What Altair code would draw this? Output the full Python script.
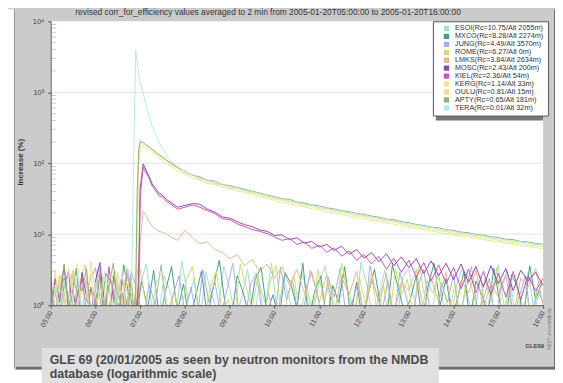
import altair as alt
import pandas as pd

# ---------------- texts ----------------
title_text = "revised corr_for_efficiency values averaged to 2 min from 2005-01-20T05:00:00 to 2005-01-20T16:00:00"
y_title = "Increase (%)"
caption1 = "GLE 69 (20/01/2005 as seen by neutron monitors from the NMDB"
caption2 = "database (logarithmic scale)"
watermark = "GLE69"
side_text = "NEST www.nmdb.eu"

# ---------------- axes ----------------
x_tick_minutes = [0, 60, 120, 180, 240, 300, 360, 420, 480, 540, 600, 660]
x_labels = ["05:00", "06:00", "07:00", "08:00", "09:00", "10:00", "11:00",
            "12:00", "13:00", "14:00", "15:00", "16:00"]
y_ticks = [1, 10, 100, 1000, 10000]
y_labels = ["10⁰", "10¹", "10²", "10³", "10⁴"]
grid_vals = [10, 100, 1000]

# ---------------- stations ----------------
stations = ["ESOI(Rc=10.75/Alt 2055m)", "MXCO(Rc=8.28/Alt 2274m)", "JUNG(Rc=4.49/Alt 3570m)",
            "ROME(Rc=6.27/Alt 0m)", "LMKS(Rc=3.84/Alt 2634m)", "MOSC(Rc=2.43/Alt 200m)",
            "KIEL(Rc=2.36/Alt 54m)", "KERG(Rc=1.14/Alt 33m)", "OULU(Rc=0.81/Alt 15m)",
            "APTY(Rc=0.65/Alt 181m)", "TERA(Rc=0.01/Alt 32m)"]
colors = ["#9fd8d0", "#3a9a80", "#a0a8f0", "#c8e060", "#e8b488", "#8a3cc0",
          "#cc50b0", "#e4ec7c", "#f0dc98", "#8cb070", "#b4ecdc"]

# time grids, minutes after 05:00 UT
esoi_t = list(range(0, 657, 8))
mxco_t = list(range(2, 659, 8))
jung_t = list(range(4, 661, 8))
rome_t = list(range(6, 655, 8))
pre_t = list(range(0, 109, 6))
evt_t = [112, 114, 116, 118, 120, 124, 128, 132, 136, 140, 145, 150, 155, 160, 170, 180,
         190, 200, 210, 220, 230, 240, 250, 260, 270, 280, 290] + list(range(300, 661, 10))

# noise-only stations (percent)
esoi = [0.6, 1.8, 1.0, 2.9, 0.7, 1.5, 2.3, 0.6, 3.4, 1.2,
        0.6, 2.5, 1.1, 3.1, 0.7, 1.9, 3.8, 0.9, 0.6, 2.6,
        1.6, 0.7, 4.2, 1.2, 2.3, 0.6, 2.9, 1.4, 0.8, 3.5,
        1.7, 0.6, 1.3, 3.2, 0.6, 2.0, 1.0, 3.9, 0.7, 2.4,
        1.2, 0.6, 3.0, 1.6, 0.8, 2.1, 3.6, 0.9, 0.6, 2.7,
        1.5, 0.7, 4.0, 1.9, 0.6, 1.4, 3.1, 1.0, 0.6, 2.5,
        3.3, 1.1, 0.6, 2.2, 1.5, 2.8, 0.8, 0.6, 1.9, 3.4,
        1.2, 0.7, 2.6, 0.6, 1.7, 3.7, 0.9, 2.1, 0.6, 1.4,
        2.9, 0.8, 1.6]
mxco = [1.2, 0.6, 2.4, 1.0, 3.3, 0.7, 1.7, 1.4, 0.6, 2.8,
        2.0, 0.7, 3.7, 1.1, 0.6, 2.2, 0.9, 3.1, 0.6, 1.6,
        3.5, 0.8, 2.0, 0.6, 1.3, 3.0, 0.7, 1.8, 4.3, 1.0,
        0.6, 2.6, 1.5, 0.7, 2.3, 3.4, 0.8, 1.4, 0.6, 2.9,
        2.0, 0.9, 3.9, 0.6, 1.6, 2.6, 0.6, 1.9, 1.1, 3.5,
        0.7, 2.1, 0.6, 1.5, 3.2, 1.0, 0.6, 3.7, 1.7, 0.8,
        1.2, 2.6, 0.6, 1.9, 3.9, 1.0, 2.4, 0.7, 1.3, 3.0,
        0.6, 2.2, 1.4, 0.8, 3.3, 1.1, 0.6, 2.7, 1.8, 0.7,
        3.6, 1.2, 2.0]
jung = [1.9, 0.8, 0.6, 2.7, 1.5, 0.7, 2.1, 3.4, 0.9, 0.6,
        2.4, 1.3, 0.7, 3.0, 1.6, 0.6, 2.0, 1.0, 3.7, 0.7,
        1.4, 2.6, 0.8, 1.8, 0.6, 3.2, 1.1, 2.2, 0.7, 1.6,
        3.9, 0.9, 0.6, 2.0, 2.8, 0.7, 1.5, 0.6, 3.4, 1.2,
        2.3, 0.7, 1.0, 3.1, 1.7, 0.6, 2.5, 1.3, 3.3, 0.7,
        1.1, 2.1, 0.6, 3.6, 1.5, 0.8, 2.2, 0.6, 2.9, 1.4,
        0.6, 1.8, 3.2, 0.9, 0.6, 2.1, 1.1, 2.7, 0.7, 1.6,
        3.5, 0.8, 1.2, 2.4, 0.6, 1.9, 3.0, 0.7, 1.3, 2.6,
        0.6, 1.7, 1.1]
rome = [0.7, 2.6, 1.4, 0.6, 2.0, 3.7, 0.8, 1.2, 2.5, 0.6,
        3.1, 1.0, 1.7, 0.7, 4.1, 1.3, 0.6, 2.2, 2.8, 0.7,
        1.5, 0.6, 2.3, 3.5, 1.0, 0.6, 1.9, 3.0, 0.8, 1.2,
        0.6, 3.8, 1.8, 0.9, 2.7, 0.7, 2.1, 3.6, 0.6, 1.3,
        2.6, 0.7, 1.7, 0.6, 3.2, 1.1, 2.1, 0.7, 3.9, 1.6,
        0.6, 2.4, 1.0, 2.9, 0.7, 1.9, 0.6, 3.3, 1.4, 2.3,
        0.7, 3.7, 1.2, 0.6, 2.6, 1.7, 0.8, 2.0, 0.6, 3.0,
        1.5, 0.7, 2.4, 1.1, 3.4, 0.6, 1.8, 2.7, 0.8, 1.3,
        0.6, 2.2]

# event stations: pre-onset noise (pre_t) then the event (evt_t)
lmks_pre = [1.8, 0.7, 2.6, 1.2, 0.6, 3.1, 1.5, 0.8, 2.2, 0.6, 1.7, 3.4, 0.9, 2.0, 0.6, 1.4, 2.8, 0.7, 1.1]
lmks_evt = [0.8, 1.6, 0.7, 1.5, 8, 21, 18, 15, 13, 12, 11, 10.6, 10.2, 9.3, 8.2, 11.4, 9.0, 7.4,
            7.8, 6.1, 5.6, 4.5, 5.2, 3.6, 4.4, 3.0, 3.8,
            2.4, 3.5, 1.9, 3.2, 1.5, 2.9, 1.1, 2.7, 0.8, 2.5, 1.4, 3.0, 0.7, 2.3, 1.2, 2.8, 0.7,
            2.1, 1.6, 3.2, 0.8, 2.4, 1.1, 2.9, 0.6, 2.2, 1.5, 3.1, 0.9, 2.0, 1.3, 2.6, 0.7, 2.4,
            1.8, 3.3, 1.0]
mosc_pre = [0.6, 2.4, 1.1, 3.6, 0.8, 1.6, 0.6, 2.9, 1.3, 0.7, 2.2, 4.0, 1.0, 0.6, 2.6, 1.5, 0.8, 3.2, 1.2]
mosc_evt = [0.7, 1.2, 0.8, 3, 45, 98, 79, 65, 51, 45, 38, 35.5, 31, 28.5, 24, 25.5, 27, 26.5,
            22.5, 20.5, 17.5, 16.8, 15, 13.6, 12.8, 11.5, 11,
            9.6, 9.8, 8.4, 8.9, 7.5, 7.9, 6.6, 7.2, 5.9, 6.8, 5.2, 6.1, 4.6, 5.5, 4.1, 5.3, 3.6,
            4.8, 3.4, 4.5, 2.8, 4.2, 2.6, 3.9, 2.3, 3.8, 2.1, 3.5, 1.8, 3.6, 2.0, 3.3, 1.6, 3.1,
            2.2, 2.9, 1.9]
kiel_pre = [2.1, 0.8, 0.6, 1.9, 3.0, 0.7, 1.4, 2.5, 0.6, 1.8, 0.9, 2.7, 0.6, 3.5, 1.2, 0.7, 2.3, 1.0, 0.6]
kiel_evt = [1.0, 0.6, 1.3, 2, 35, 88, 73, 61, 48, 42, 35, 33.5, 29, 27, 22.5, 24, 26, 24, 21.5,
            19.5, 16.5, 16, 14, 12.8, 11.6, 11, 10.2,
            9.1, 8.2, 8.7, 7.2, 7.7, 6.3, 7.0, 5.6, 6.4, 4.9, 5.8, 4.3, 5.2, 3.8, 4.9, 3.2, 4.6,
            2.9, 4.3, 2.5, 4.0, 2.2, 3.7, 2.0, 3.4, 1.7, 3.2, 1.5, 3.0, 1.4, 2.8, 1.3, 3.0, 1.2,
            2.6, 1.6, 2.4]
kerg_pre = [1.0, 3.2, 0.7, 1.6, 0.6, 2.4, 3.9, 0.8, 1.3, 2.8, 0.6, 1.9, 1.1, 0.7, 3.0, 1.6, 0.6, 2.2, 1.4]
kerg_evt = [0.6, 1, 8, 90, 170, 173, 162, 154, 141, 132, 119, 111, 100, 93, 78, 70, 61, 58, 52,
            50, 45.5, 44, 41, 38.5, 36.5, 34, 32,
            30, 28, 27.2, 25.3, 24.4, 22.8, 22, 20.6, 20, 18.8, 18.2, 17.1, 16.6, 15.6, 15.2,
            14.3, 13.9, 13.1, 12.6, 12.1, 11.5, 11.1, 10.6, 10.2, 9.8, 9.4, 9.1, 8.7, 8.4, 8.1,
            7.8, 7.5, 7.3, 7.0, 6.7, 6.5, 6.2]
oulu_pre = [0.7, 1.5, 2.7, 0.6, 3.4, 1.2, 0.8, 2.0, 0.6, 4.2, 1.4, 0.7, 2.5, 1.8, 0.6, 2.9, 1.0, 3.6, 0.8]
oulu_evt = [0.8, 1.5, 20, 120, 195, 186, 176, 163, 153, 139, 129, 117, 109, 97, 85, 72, 67, 59,
            57, 51, 49.5, 45, 44, 40, 38.5, 36, 34,
            31.5, 30, 28.8, 27, 25.5, 24.6, 23, 22.4, 21, 20.2, 19.4, 18.3, 17.8, 16.6, 16.1,
            15.2, 14.8, 14.0, 13.3, 12.9, 12.2, 11.9, 11.2, 10.9, 10.3, 10.1, 9.6, 9.3, 8.8, 8.7,
            8.2, 7.9, 7.6, 7.5, 7.1, 6.9, 6.6]
apty_pre = [2.5, 0.6, 1.3, 3.8, 0.9, 0.6, 2.1, 1.6, 3.3, 0.7, 1.1, 2.6, 0.6, 1.9, 3.9, 0.8, 1.5, 0.6, 2.4]
apty_evt = [0.7, 2, 40, 160, 205, 196, 181, 171, 157, 147, 132, 123, 111, 103, 87, 77, 68, 64,
            57.5, 56, 50, 48.5, 45.5, 43, 40.5, 38, 35.5,
            34, 31.5, 31, 28.5, 27.5, 26, 25, 23.5, 22.8, 21.5, 20.8, 19.6, 19, 18, 17.4, 16.3,
            16, 15, 14.6, 13.7, 13.3, 12.6, 12.3, 11.6, 11.3, 10.7, 10.5, 9.9, 9.7, 9.2, 9.0,
            8.5, 8.4, 7.9, 7.8, 7.4, 7.2]
tera_pre = [0.6, 1.9, 0.9, 2.3, 0.6, 1.4, 2.8, 0.7, 1.6, 0.6, 2.1, 1.2, 3.0, 0.8, 0.6, 1.8, 2.6, 0.7, 1.3]
tera_evt = [300, 4000, 2600, 1800, 1350, 950, 650, 450, 330, 260, 200, 160, 130, 110, 90, 76, 69,
            61, 58, 52, 51, 46, 45, 41, 39.5, 37, 35,
            32.5, 31, 29.5, 28, 26.3, 25.5, 23.8, 23, 21.8, 21, 20, 19.2, 18.4, 17.5, 16.8, 16,
            15.4, 14.6, 14.1, 13.4, 12.9, 12.4, 11.8, 11.4, 10.9, 10.5, 10.1, 9.7, 9.3, 9.0, 8.6,
            8.3, 8.0, 7.8, 7.5, 7.2, 7.0]

rows = []
for name, ts, vals in zip(stations[:4], [esoi_t, mxco_t, jung_t, rome_t], [esoi, mxco, jung, rome]):
    for t, v in zip(ts, vals):
        rows.append({"station": name, "t": t, "v": v})
event = [(lmks_pre, lmks_evt), (mosc_pre, mosc_evt), (kiel_pre, kiel_evt), (kerg_pre, kerg_evt),
         (oulu_pre, oulu_evt), (apty_pre, apty_evt), (tera_pre, tera_evt)]
for name, (pre, evt) in zip(stations[4:], event):
    for t, v in zip(pre_t + evt_t, pre + evt):
        rows.append({"station": name, "t": t, "v": v})
df = pd.DataFrame(rows)

W, H = 496, 286
FONT = "Liberation Sans"
one = pd.DataFrame({"a": [0]})

yscale = alt.Scale(type="log", domain=[1, 10000], nice=False)
xscale = alt.Scale(domain=[0, 660], nice=False, zero=False)

x_expr = "[" + ",".join("'%s'" % s for s in x_labels) + "][round(datum.value/60)]"
y_expr = "[" + ",".join("'%s'" % s for s in y_labels) + "][round(log(datum.value)/LN10)]"


def y_axis():
    return alt.Axis(values=y_ticks, labelExpr=y_expr, labelFontSize=7.5,
                    labelColor="#444", labelFont=FONT, tickSize=3, tickColor="#555",
                    domainColor="#555", labelPadding=4, grid=False, title=None, zindex=1)


def box(x1, x2, y1, y2, fill):
    return alt.Chart(one).mark_rect(fill=fill).encode(
        x=alt.value(x1), x2=alt.value(x2), y=alt.value(y1), y2=alt.value(y2))


# frame decorations: the gray frame is the chart background; white outside of it
left_white = box(-43, -37, -12, 366, "white")
left_edge = box(-37, -36, -12, 349, "#9a9a9a")
bottom_shadow = box(-35, 510, 348, 351, "#6e6e6e")
bottom_white = box(-43, 512, 351, 366, "white")
right_shadow = box(507, 510, -12, 351, "#6e6e6e")
right_white = box(510, 512, -12, 366, "white")

grid = alt.Chart(pd.DataFrame({"g": grid_vals})).mark_rule(color="#e2e2e2", strokeWidth=1).encode(
    y=alt.Y("g:Q", scale=yscale, axis=y_axis()))

minor_vals = [m * d for d in [1, 10, 100, 1000] for m in range(2, 10)]
minor = alt.Chart(pd.DataFrame({"m": minor_vals})).mark_tick(
    color="#b8b8b8", thickness=1, size=5, orient="horizontal").encode(
    y=alt.Y("m:Q", scale=yscale, axis=y_axis()), x=alt.value(3))

lines = alt.Chart(df).mark_line(strokeWidth=1, clip=True, opacity=0.95).encode(
    x=alt.X("t:Q", scale=xscale,
            axis=alt.Axis(values=x_tick_minutes, labelExpr=x_expr, labelAngle=300,
                          labelAlign="right", labelBaseline="middle", labelFontSize=7,
                          labelColor="#444", labelFont=FONT, tickSize=3, tickColor="#555",
                          domainColor="#555", labelPadding=3, grid=False, title=None,
                          zindex=1, labelOverlap=False)),
    y=alt.Y("v:Q", scale=yscale, axis=y_axis()),
    color=alt.Color("station:N", sort=stations,
                    scale=alt.Scale(domain=stations, range=colors),
                    legend=alt.Legend(title=None, orient="none", legendX=385, legendY=0,
                                      symbolType="square", symbolSize=8, symbolStrokeWidth=2.5,
                                      labelFontSize=7.3, clipHeight=6.5,
                                      labelFont=FONT, labelColor="#333", rowPadding=0,
                                      padding=4, strokeColor="#555", fillColor="white",
                                      symbolOffset=6, labelOffset=5, zindex=1)),
)

legend_shadow = box(388, 496, 3, 100, "#777")

title = alt.Chart(pd.DataFrame({"s": [title_text]})).mark_text(
    font=FONT, fontSize=8.4, color="#333", align="center", baseline="middle").encode(
    x=alt.value(219), y=alt.value(-9), text="s:N")
ytitle = alt.Chart(pd.DataFrame({"s": [y_title]})).mark_text(
    font=FONT, fontSize=8, fontWeight="bold", color="#333", angle=270,
    align="center", baseline="middle").encode(
    x=alt.value(-30), y=alt.value(142), text="s:N")
wm = alt.Chart(pd.DataFrame({"s": [watermark]})).mark_text(
    font=FONT, fontSize=6, fontWeight="bold", color="#444", align="right",
    baseline="middle").encode(x=alt.value(497), y=alt.value(327), text="s:N")
side = alt.Chart(pd.DataFrame({"s": [side_text]})).mark_text(
    font=FONT, fontSize=4.5, color="#777", angle=270, align="center",
    baseline="middle").encode(x=alt.value(503), y=alt.value(310), text="s:N")

cap_box = box(-9, 391, 329, 370, "#e0e0e0")
cap1 = alt.Chart(pd.DataFrame({"s": [caption1]})).mark_text(
    font=FONT, fontSize=12.5, fontWeight="bold", color="#4a4a4a", align="left",
    baseline="alphabetic").encode(x=alt.value(-1), y=alt.value(345), text="s:N")
cap2 = alt.Chart(pd.DataFrame({"s": [caption2]})).mark_text(
    font=FONT, fontSize=12.5, fontWeight="bold", color="#4a4a4a", align="left",
    baseline="alphabetic").encode(x=alt.value(-1), y=alt.value(359.5), text="s:N")

chart = alt.layer(
    left_white, left_edge, bottom_shadow, bottom_white, right_shadow, right_white,
    grid, minor, legend_shadow, lines,
    title, ytitle, wm, side, cap_box, cap1, cap2
).properties(
    width=W, height=H,
    autosize=alt.AutoSizeParams(type="none"),
    padding={"left": 43, "top": 12, "right": 12, "bottom": 77},
).configure(background="#cbcbcb").configure_view(stroke=None, fill="white")

chart.save("out.html", embed_options={"renderer": "svg", "actions": False})
